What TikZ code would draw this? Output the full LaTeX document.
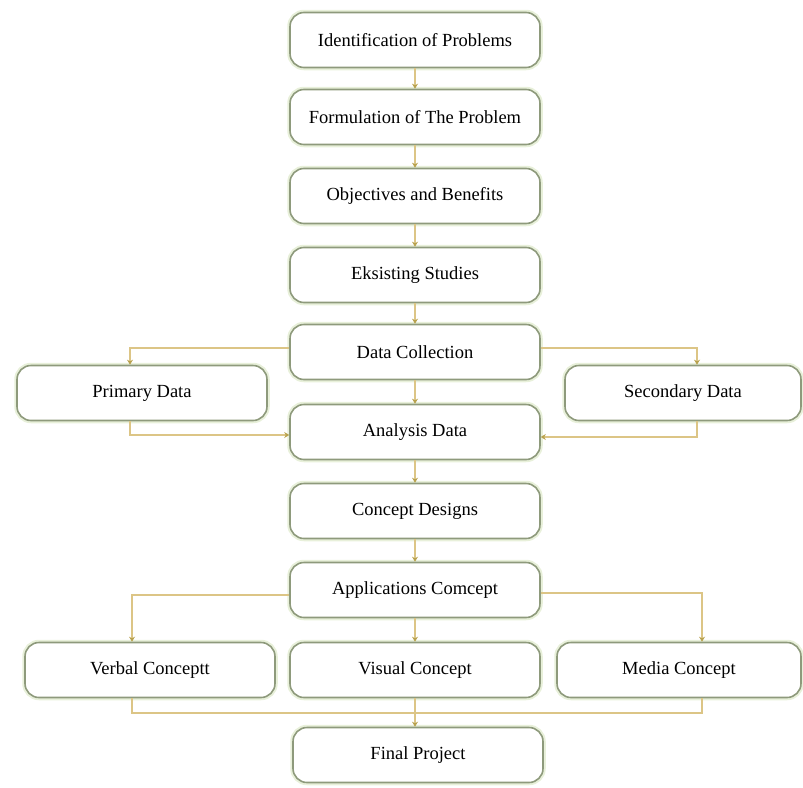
\documentclass[tikz,border=0pt]{standalone}
\usepackage{fontspec}
\setmainfont{Liberation Serif}
\usetikzlibrary{arrows.meta}
\definecolor{bordc}{HTML}{8E9A7C}
\definecolor{haloc}{HTML}{E8F0DA}
\definecolor{linec}{HTML}{DCC586}
\definecolor{tipc}{HTML}{B8A24E}
\tikzset{
  box/.style={draw=bordc, line width=1.6pt, rounded corners=14pt, fill=white,
    minimum width=250pt, minimum height=55pt, inner sep=0pt,
    font=\fontsize{18.5}{21}\selectfont,
    preaction={draw=haloc, line width=5.5pt}},
  conn/.style={draw=linec, line width=1.8pt},
  arr/.style={conn, -{Stealth[length=5pt,width=6pt,color=tipc]}}
}
\begin{document}
\begin{tikzpicture}[x=1pt,y=-1pt]
\useasboundingbox (0,0) rectangle (803,787);
\node[box] (idp) at (415,40) {Identification of Problems};
\node[box] (form) at (415,117) {Formulation of The Problem};
\node[box] (obj) at (415,196) {Objectives and Benefits};
\node[box] (eks) at (415,275) {Eksisting Studies};
\node[box] (dc) at (415,352) {Data Collection};
\node[box] (ad) at (415,432) {Analysis Data};
\node[box] (cd) at (415,511) {Concept Designs};
\node[box] (ac) at (415,590) {Applications Comcept};
\node[box] (vis) at (415,670) {Visual Concept};
\node[box] (fin) at (418,755) {Final Project};
\node[box] (pd) at (142,393) {Primary Data};
\node[box, minimum width=236pt] (sd) at (683,393) {Secondary Data};
\node[box] (vc) at (150,670) {Verbal Conceptt};
\node[box, minimum width=244pt] (mc) at (679,670) {Media Concept};
\coordinate (j) at (415,713);
\draw[arr] (idp) -- (form);
\draw[arr] (form) -- (obj);
\draw[arr] (obj) -- (eks);
\draw[arr] (eks) -- (dc);
\draw[arr] (dc) -- (ad);
\draw[arr] (ad) -- (cd);
\draw[arr] (cd) -- (ac);
\draw[arr] (ac) -- (vis);
\draw[arr] (dc.west |- 0,348) -| (pd.north -| 130,0);
\draw[arr] (dc.east |- 0,348) -| (sd.north -| 697,0);
\draw[arr] (pd.south -| 130,0) |- (ad.west |- 0,435);
\draw[arr] (sd.south -| 697,0) |- (ad.east |- 0,437);
\draw[arr] (ac.west |- 0,595) -| (vc.north -| 132,0);
\draw[arr] (ac.east |- 0,593) -| (mc.north -| 702,0);
\draw[conn] (vc.south -| 132,0) |- (j);
\draw[conn] (mc.south -| 702,0) |- (j);
\draw[arr] (vis.south -| 415,0) -- (fin.north -| 415,0);
\end{tikzpicture}
\end{document}
